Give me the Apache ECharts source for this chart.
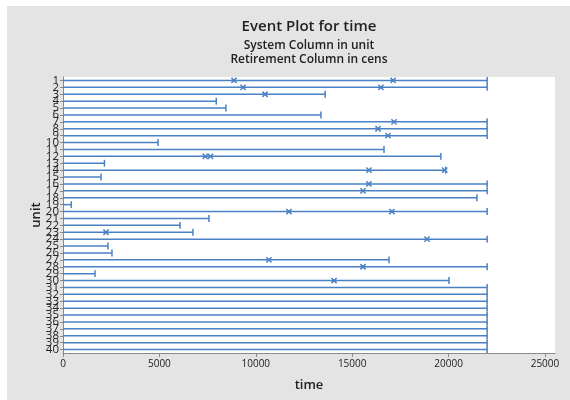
<!DOCTYPE html>
<html>
<head>
<meta charset="utf-8">
<script src="https://cdn.jsdelivr.net/npm/echarts@6/dist/echarts.min.js"></script>
<style>
  html, body { margin: 0; padding: 0; background: #ffffff; }
  #chart { position: absolute; left: 7px; top: 6px; width: 563px; height: 394px; }
</style>
</head>
<body>
<div id="chart"></div>
<script>
// Units (systems) 1..40
const units = Array.from({ length: 40 }, (_, i) => String(i + 1));

// Retirement (censoring) time for each unit
const retireTimes = [
  22000, 22000, 13600, 7950, 8450, 13380, 22000, 22000, 22000, 4930,
  16650, 19600, 2150, 19850, 1970, 22000, 22000, 21470, 430, 22000,
  7570, 6070, 6740, 22000, 2330, 2540, 16910, 22000, 1660, 20020,
  22000, 22000, 22000, 22000, 22000, 22000, 22000, 22000, 22000, 22000
];

// Recurrent events: unit number and event time
const eventUnits = ['1', '1', '2', '2', '3', '7', '8', '9', '12', '12', '14', '14',
                    '16', '17', '20', '20', '23', '24', '27', '28', '30'];
const eventTimes = [8870, 17120, 9340, 16490, 10480, 17170, 16340, 16860, 7380, 7650, 15870, 19800,
                    15870, 15560, 11720, 17060, 2230, 18880, 10680, 15560, 14060];

// Axis tick values
const timeTicks = [0, 5000, 10000, 15000, 20000, 25000];

const lineColor = '#4a80c4';
const fontFamily = '"Open Sans", "Noto Sans", sans-serif';

const chart = echarts.init(document.getElementById('chart'), null, { renderer: 'canvas' });

const option = {
  backgroundColor: '#e4e4e4',
  animation: false,
  grid: {
    left: 56, top: 71, right: 15, bottom: 47,
    show: true, backgroundColor: '#ffffff', borderWidth: 0
  },
  graphic: [
    { type: 'text', x: 302, y: 21, style: { text: 'Event Plot for time', fill: '#222', font: '600 15px ' + fontFamily, textAlign: 'center', textVerticalAlign: 'middle' } },
    { type: 'text', x: 302, y: 40, style: { text: 'System Column in unit', fill: '#222', font: '600 12px ' + fontFamily, textAlign: 'center', textVerticalAlign: 'middle' } },
    { type: 'text', x: 302, y: 54, style: { text: 'Retirement Column in cens', fill: '#222', font: '600 12px ' + fontFamily, textAlign: 'center', textVerticalAlign: 'middle' } }
  ],
  xAxis: {
    type: 'value',
    min: 0,
    max: 25520,
    name: 'time',
    nameLocation: 'middle',
    nameGap: 26,
    nameMoveOverlap: false,
    nameTextStyle: { fontFamily, fontSize: 13, fontWeight: 600, color: '#222' },
    splitLine: { show: false },
    axisLine: { show: true, lineStyle: { color: '#8a8a8a', width: 1 } },
    axisTick: { show: true, length: 4, lineStyle: { color: '#8a8a8a' }, customValues: timeTicks },
    axisLabel: {
      fontFamily, fontSize: 10, color: '#222', margin: 6, customValues: timeTicks,
      formatter: (v) => String(v)
    }
  },
  yAxis: {
    type: 'category',
    data: units,
    inverse: true,
    boundaryGap: true,
    name: 'unit',
    nameLocation: 'middle',
    nameGap: 20,
    nameMoveOverlap: false,
    nameRotate: 90,
    nameTextStyle: { fontFamily, fontSize: 13, fontWeight: 600, color: '#222' },
    axisLine: { show: true, lineStyle: { color: '#8a8a8a', width: 1 } },
    axisTick: { show: true, alignWithLabel: true, length: 3, lineStyle: { color: '#8a8a8a' } },
    axisLabel: { interval: 0, fontFamily, fontSize: 11.5, color: '#222', margin: 4, hideOverlap: false },
    splitLine: { show: false }
  },
  series: [
    {
      // unit lifelines ending in a retirement cap
      type: 'custom',
      name: 'retirement',
      coordinateSystem: 'cartesian2d',
      data: retireTimes.map((t, i) => [t, units[i]]),
      encode: { x: 0, y: 1 },
      renderItem: function (params, api) {
        const start = api.coord([0, api.value(1)]);
        const end = api.coord([api.value(0), api.value(1)]);
        const half = api.size([0, 1])[1] / 2;
        const style = { stroke: lineColor, lineWidth: 1.5 };
        return {
          type: 'group',
          children: [
            { type: 'line', shape: { x1: start[0], y1: start[1], x2: end[0], y2: end[1] }, style },
            { type: 'line', shape: { x1: end[0], y1: end[1] - half, x2: end[0], y2: end[1] + half }, style }
          ]
        };
      },
      z: 2
    },
    {
      // event markers
      type: 'custom',
      name: 'events',
      coordinateSystem: 'cartesian2d',
      data: eventTimes.map((t, i) => [t, eventUnits[i]]),
      encode: { x: 0, y: 1 },
      renderItem: function (params, api) {
        const p = api.coord([api.value(0), api.value(1)]);
        const s = 2.6;
        const style = { stroke: lineColor, lineWidth: 1.5 };
        return {
          type: 'group',
          children: [
            { type: 'line', shape: { x1: p[0] - s, y1: p[1] - s, x2: p[0] + s, y2: p[1] + s }, style },
            { type: 'line', shape: { x1: p[0] - s, y1: p[1] + s, x2: p[0] + s, y2: p[1] - s }, style }
          ]
        };
      },
      z: 3
    }
  ]
};

chart.setOption(option);
</script>
</body>
</html>
